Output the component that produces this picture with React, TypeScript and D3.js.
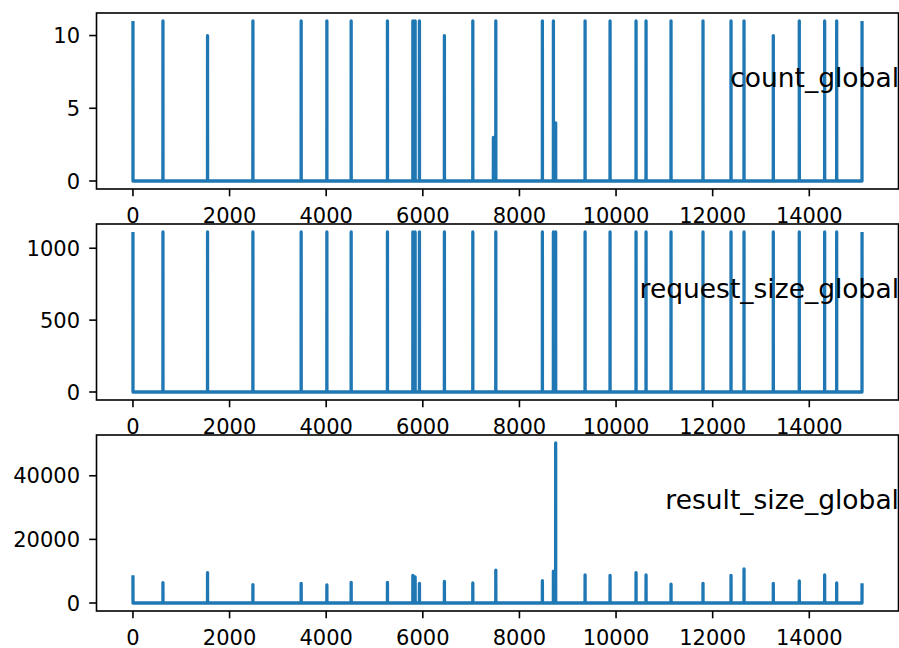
import React from "react";
import { scaleLinear, line } from "d3";

const width = 899;
const height = 648;

// x index where each spike sits, and the value of each series there
const spikeX = [
  0, 621, 1544, 2483, 3482, 4014, 4517, 5268, 5794, 5841,
  5930, 6447, 7035, 7461, 7511, 8475, 8703, 8750, 9359, 9876,
  10414, 10621, 11138, 11800, 12380, 12649, 13255, 13793, 14318, 14567,
  15092,
];
const countValues = [
  11, 11, 10, 11, 11, 11, 11, 11, 11, 11,
  11, 10, 11, 3, 11, 11, 11, 4, 11, 11,
  11, 11, 11, 11, 11, 11, 10, 11, 11, 11,
  11,
];
const requestValues = [
  1113, 1113, 1113, 1113, 1113, 1113, 1113, 1113, 1113, 1113,
  1113, 1113, 1113, 0, 1113, 1113, 1113, 1113, 1113, 1113,
  1113, 1113, 1113, 1113, 1113, 1113, 1113, 1113, 1113, 1113,
  1113,
];
const resultValues = [
  8700, 6400, 9550, 5800, 6200, 5680, 6500, 6500, 8700, 8200,
  6200, 6800, 6300, 0, 10300, 7000, 10000, 50300, 8800, 8700,
  9550, 8800, 5900, 6200, 8700, 10700, 6200, 6930, 8800, 6300,
  6200,
];
const xLast = 15092;

const xTicks = [0, 2000, 4000, 6000, 8000, 10000, 12000, 14000];
const panels = [
  { name: "count_global", values: countValues, ticks: [0, 5, 10] },
  { name: "request_size_global", values: requestValues, ticks: [0, 500, 1000] },
  { name: "result_size_global", values: resultValues, ticks: [0, 20000, 40000] },
];

const left = 96.5;
const right = 898.5;
const tops = [13, 224, 435];
const panelH = 176;
const blue = "#1f77b4";
const tickFont = 21;

const pad = (lo: number, hi: number) => {
  const m = (hi - lo) * 0.05;
  return [lo - m, hi + m];
};

const x = scaleLinear().domain(pad(0, xLast)).range([left, right]);

function buildPoints(values: number[]) {
  const pts: [number, number][] = [];
  if (spikeX[0] !== 0) pts.push([0, 0]);
  spikeX.forEach((sx, i) => {
    const v = values[i];
    if (!v) return;
    if (sx > 0) pts.push([sx - 1, 0]);
    pts.push([sx, v]);
    if (sx < xLast) pts.push([sx + 1, 0]);
  });
  if (spikeX[spikeX.length - 1] !== xLast) pts.push([xLast, 0]);
  return pts;
}

const Panel = ({ p, top, idx }: { p: any; top: number; idx: number }) => {
  const bottom = top + panelH;
  const max = Math.max(...p.values);
  const y = scaleLinear().domain(pad(0, max)).range([bottom, top]);
  const path = line<[number, number]>()
    .x((d) => x(d[0]))
    .y((d) => y(d[1]))(buildPoints(p.values));
  return (
    <g>
      <clipPath id={`clip${idx}`}>
        <rect x={left} y={top} width={right - left} height={panelH} />
      </clipPath>
      <path
        d={path || ""}
        fill="none"
        stroke={blue}
        strokeWidth={3.3}
        strokeLinejoin="round"
        clipPath={`url(#clip${idx})`}
      />
      <rect
        x={left}
        y={top}
        width={right - left}
        height={panelH}
        fill="none"
        stroke="black"
        strokeWidth={1.6}
      />
      {p.ticks.map((t: number) => (
        <g key={t}>
          <line x1={left - 7.3} x2={left} y1={y(t)} y2={y(t)} stroke="black" strokeWidth={1.6} />
          <text
            x={80}
            y={y(t) + tickFont * 0.36}
            textAnchor="end"
            fontSize={tickFont}
            fontFamily="DejaVu Sans"
          >
            {t}
          </text>
        </g>
      ))}
      {xTicks.map((t) => (
        <g key={t}>
          <line x1={x(t)} x2={x(t)} y1={bottom} y2={bottom + 7.3} stroke="black" strokeWidth={1.6} />
          <text
            x={x(t)}
            y={bottom + 33.5}
            textAnchor="middle"
            fontSize={tickFont}
            fontFamily="DejaVu Sans"
          >
            {t}
          </text>
        </g>
      ))}
      <text
        x={899}
        y={top + 74}
        textAnchor="end"
        fontSize={26.5}
        fontFamily="DejaVu Sans"
      >
        {p.name}
      </text>
    </g>
  );
};

const App = () => (
  <svg
    width={width}
    height={height}
    style={{ position: "absolute", left: 0, top: 0, background: "white" }}
  >
    {panels.map((p, i) => (
      <Panel key={p.name} p={p} top={tops[i]} idx={i} />
    ))}
  </svg>
);

export default App;
